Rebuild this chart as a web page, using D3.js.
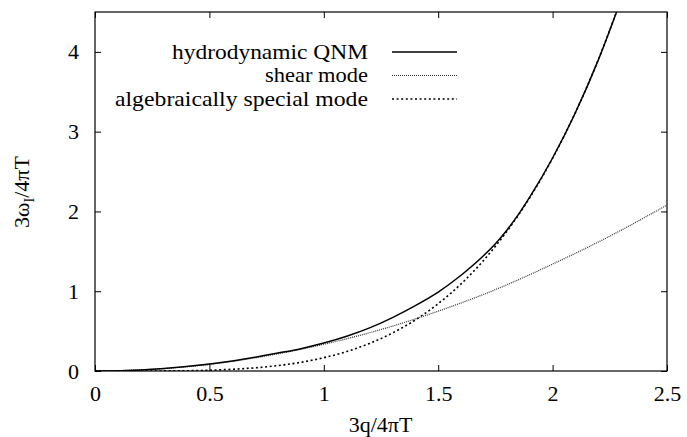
<!DOCTYPE html>
<html>
<head>
<meta charset="utf-8">
<script src="https://cdn.jsdelivr.net/npm/d3@7"></script>
<style>
  body { margin: 0; background: #fff; }
  .frame { fill: none; stroke: #000; stroke-width: 1.2; }
  .tick line { stroke: #000; stroke-width: 1; }
</style>
</head>
<body>
<div id="chart"></div>
<script>
// x values are 3q/4piT, y values are 3w_I/4piT
const qHydro = [0, 0.2, 0.4, 0.6, 0.8, 0.9, 1.0, 1.1, 1.2, 1.3, 1.4, 1.5, 1.6, 1.7, 1.75, 1.8, 1.85, 1.9, 2.0, 2.1, 2.2, 2.3]
const wHydro = [0, 0.014, 0.055, 0.125, 0.225, 0.28, 0.35, 0.435, 0.54, 0.67, 0.82, 0.99, 1.20, 1.45, 1.595, 1.765, 1.96, 2.18, 2.67, 3.24, 3.90, 4.66]

const qShear = [0, 0.25, 0.5, 0.75, 1.0, 1.25, 1.5, 1.75, 2.0, 2.25, 2.5]
const wShear = [0, 0.021, 0.083, 0.19, 0.335, 0.52, 0.75, 1.02, 1.34, 1.69, 2.08]

const qAlg = [0, 0.3, 0.5, 0.6, 0.7, 0.8, 0.9, 1.0, 1.1, 1.2, 1.3, 1.4, 1.5, 1.6, 1.7, 1.8, 1.9, 2.0, 2.1, 2.2, 2.3]
const wAlg = [0, 0.001, 0.010, 0.022, 0.040, 0.068, 0.109, 0.167, 0.244, 0.346, 0.476, 0.640, 0.844, 1.092, 1.392, 1.750, 2.172, 2.667, 3.241, 3.904, 4.664]

const xTicks = [0, 0.5, 1, 1.5, 2, 2.5]
const yTicks = [0, 1, 2, 3, 4]

const seriesNames = ['hydrodynamic QNM', 'shear mode', 'algebraically special mode']

const width = 687
const height = 437
const plotL = 95, plotR = 667, plotT = 12, plotB = 371
const serif = '"Liberation Serif", "Times New Roman", Tinos, FreeSerif, serif'

const x = d3.scaleLinear().domain([0, 2.5]).range([plotL, plotR])
const y = d3.scaleLinear().domain([0, 4.5]).range([plotB, plotT])

const styles = [
  { stroke: '#000', width: 1.5, dash: null },
  { stroke: '#333', width: 1.2, dash: '1,1' },
  { stroke: '#000', width: 1.6, dash: '2,2.6' }
]
// the legend text in the original is set a bit wide
const legendWidths = [196, 103, 253]

const svg = d3.select('#chart').append('svg')
  .attr('width', width)
  .attr('height', height)

svg.append('defs').append('clipPath').attr('id', 'plotClip')
  .append('rect')
  .attr('x', plotL).attr('y', plotT)
  .attr('width', plotR - plotL).attr('height', plotB - plotT)

// axes, ticks point inward and are mirrored like gnuplot does
const tickLen = 6
const fmt = d => String(d)

svg.append('g')
  .attr('transform', `translate(0,${plotB})`)
  .call(d3.axisBottom(x).tickValues(xTicks).tickSizeInner(-tickLen).tickSizeOuter(0).tickPadding(14).tickFormat(fmt))
  .call(g => g.select('.domain').remove())
  .call(g => g.selectAll('text').attr('font-size', 22).attr('dy', '0.71em'))

svg.append('g')
  .attr('transform', `translate(0,${plotT})`)
  .call(d3.axisTop(x).tickValues(xTicks).tickSizeInner(-tickLen).tickSizeOuter(0).tickFormat(''))
  .call(g => g.select('.domain').remove())

svg.append('g')
  .attr('transform', `translate(${plotL},0)`)
  .call(d3.axisLeft(y).tickValues(yTicks).tickSizeInner(-tickLen).tickSizeOuter(0).tickPadding(16).tickFormat(fmt))
  .call(g => g.select('.domain').remove())
  .call(g => g.selectAll('text').attr('font-size', 22))

svg.append('g')
  .attr('transform', `translate(${plotR},0)`)
  .call(d3.axisRight(y).tickValues(yTicks).tickSizeInner(-tickLen).tickSizeOuter(0).tickFormat(''))
  .call(g => g.select('.domain').remove())

svg.append('rect')
  .attr('class', 'frame')
  .attr('x', plotL).attr('y', plotT)
  .attr('width', plotR - plotL).attr('height', plotB - plotT)

// curves
const line = d3.line()
  .x(d => x(d[0]))
  .y(d => y(d[1]))
  .curve(d3.curveMonotoneX)

const series = [
  d3.zip(qHydro, wHydro),
  d3.zip(qShear, wShear),
  d3.zip(qAlg, wAlg)
]

const curves = svg.append('g').attr('clip-path', 'url(#plotClip)')
// draw the special mode first so the solid line sits on top
;[2, 1, 0].forEach(i => {
  curves.append('path')
    .datum(series[i])
    .attr('fill', 'none')
    .attr('stroke', styles[i].stroke)
    .attr('stroke-width', styles[i].width)
    .attr('stroke-dasharray', styles[i].dash)
    .attr('d', line)
})

// legend
const legend = svg.append('g')
seriesNames.forEach((name, i) => {
  const ly = 52 + i * 23.5
  legend.append('text')
    .attr('x', 368).attr('y', ly)
    .attr('dy', '0.33em')
    .attr('text-anchor', 'end')
    .attr('font-size', 21)
    .attr('textLength', legendWidths[i])
    .attr('lengthAdjust', 'spacingAndGlyphs')
    .text(name)
  legend.append('line')
    .attr('x1', 392).attr('x2', 457)
    .attr('y1', ly).attr('y2', ly)
    .attr('stroke', styles[i].stroke)
    .attr('stroke-width', styles[i].width)
    .attr('stroke-dasharray', styles[i].dash)
})

// axis titles
svg.append('text')
  .attr('x', (plotL + plotR) / 2 - 0.5).attr('y', 432)
  .attr('text-anchor', 'middle')
  .attr('font-size', 22)
  .text('3q/4πT')

const yTitle = svg.append('text')
  .attr('transform', 'translate(29,192) rotate(-90)')
  .attr('text-anchor', 'middle')
  .attr('font-size', 22)
yTitle.append('tspan').text('3ω')
yTitle.append('tspan').attr('font-size', 14).attr('dy', 5).text('I')
yTitle.append('tspan').attr('dy', -5).text('/4πT')

svg.selectAll('text').style('font-family', serif).style('fill', '#000')
</script>
</body>
</html>
